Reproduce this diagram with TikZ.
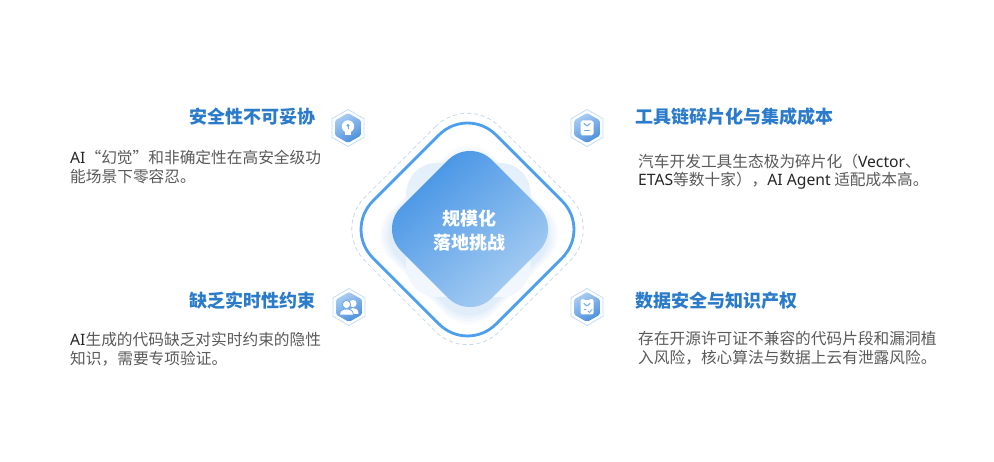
\documentclass[tikz,border=0pt]{standalone}
\usepackage{fontspec}
\setmainfont{Noto Sans}
\newfontfamily\cjk{Noto Sans CJK SC}
\usetikzlibrary{shapes.geometric}
\definecolor{titleblue}{HTML}{2B7BCB}
\definecolor{ringblue}{HTML}{4C9FEC}
\definecolor{dashblue}{HTML}{C4D9EA}
\definecolor{bodygray}{HTML}{5A5A5A}
\definecolor{latindark}{HTML}{262626}
\definecolor{blobblue}{HTML}{E3EFFB}
\definecolor{shadeA}{HTML}{3D8FE4}
\definecolor{shadeB}{HTML}{B1D3F4}
\definecolor{hexA}{HTML}{A9CDF3}
\definecolor{hexB}{HTML}{4A8FDB}
\definecolor{iconblue}{HTML}{6FA8E6}
\tikzset{
  x=1pt,y=-1pt,
  ttl/.style={font=\cjk\bfseries\fontsize{18}{20}\selectfont,text=titleblue,inner sep=0pt},
  bodytxt/.style={font=\cjk\fontsize{15.7}{18.8}\selectfont,text=bodygray,inner sep=0pt,anchor=north west,align=left},
  hexout/.style={regular polygon,regular polygon sides=6,minimum size=37pt,inner sep=0pt,draw=hexA!70,line width=0.8pt,fill=white},
  hexin/.style={regular polygon,regular polygon sides=6,minimum size=30pt,inner sep=0pt,rounded corners=1.5pt,top color=hexA,bottom color=hexB,shading angle=30},
  diamond box/.style={rectangle,rotate=45,inner sep=0pt},
  iconw/.style={fill=white,draw=none},
  iconb/.style={draw=iconblue,line width=1pt,line cap=round,line join=round},
}
\newcommand{\lat}[1]{{\color{latindark}\fontspec{Noto Sans}#1}}
\begin{document}
\begin{tikzpicture}
\useasboundingbox (0,0) rectangle (994,462);
\fill[white] (0,0) rectangle (994,462);
% glow
\foreach \s/\o in {146/0.05,142/0.06,138/0.07,134/0.08}{
  \node[diamond box,minimum size=\s pt,rounded corners=34pt,fill=shadeA!60,opacity=\o] at (469,235) {};
}
% blob
\node[rectangle,minimum width=124pt,minimum height=134pt,rounded corners=30pt,top color=blobblue,bottom color=blobblue!45,inner sep=0pt] (blob) at (468.5,230) {};
% rings
\node[diamond box,minimum size=190pt,rounded corners=45pt,draw=dashblue,line width=0.8pt,dash pattern=on 4pt off 3pt] (dash) at (467.5,229) {};
\node[diamond box,minimum size=174pt,rounded corners=40pt,draw=ringblue,line width=2.8pt] (ring) at (467.5,229.5) {};
% core
\node[diamond box,minimum size=128.5pt,rounded corners=31pt,top color=shadeA,bottom color=shadeB,shading angle=40] (core) at (470,229) {};
\node[font=\cjk\bfseries\fontsize{18}{24}\selectfont,text=white,align=center,inner sep=0pt] (ctext) at (469.5,230.5) {规模化\\落地挑战};
% titles
\node[ttl,anchor=east] (t1) at (316,117) {安全性不可妥协};
\node[ttl,anchor=west] (t2) at (635,117) {工具链碎片化与集成成本};
\node[ttl,anchor=east] (t3) at (316,300.5) {缺乏实时性约束};
\node[ttl,anchor=west] (t4) at (635,301) {数据安全与知识产权};
% bodies
\node[bodytxt] (b1) at (70,150) {\lat{AI}“幻觉”和非确定性在高安全级功\\能场景下零容忍。};
\node[bodytxt] (b2) at (638,153.5) {汽车开发工具生态极为碎片化（\lat{Vector}、\\\lat{ETAS}等数十家），\lat{AI Agent} 适配成本高。};
\node[bodytxt] (b3) at (70,332.5) {\lat{AI}生成的代码缺乏对实时约束的隐性\\知识，需要专项验证。};
\node[bodytxt] (b4) at (638,331.5) {存在开源许可证不兼容的代码片段和漏洞植\\入风险，核心算法与数据上云有泄露风险。};
% hexes
\foreach \n/\x/\y in {h1/348/128,h2/587/128,h3/349/307,h4/587/307}{
  \node[hexout,shape border rotate=90] (\n) at (\x,\y) {};
  \node[hexin,shape border rotate=90] (\n i) at (\x,\y) {};
}
% icon 1: bulb head
\begin{scope}[shift={(h1.center)}]
  \fill[iconw] (0,-1.5) circle (6.2);
  \fill[iconw] (-3,2) rectangle (3,7) ;
  \fill[iconblue] (0,-2.5) circle (1.6);
  \draw[iconb,line width=0.9pt] (0,-2) -- (0,1);
\end{scope}
% icon 2: card
\begin{scope}[shift={(h2.center)}]
  \fill[iconw,rounded corners=1.8pt] (-6.5,-7.5) rectangle (6.5,7.5);
  \draw[iconb] (-3,-4.5) -- (0,-2) -- (3,-4.5);
  \draw[iconb] (-2.5,3) -- (2.5,3);
\end{scope}
% icon 3: two people
\begin{scope}[shift={(h3.center)}]
  \fill[iconw] (4,-3.5) circle (3.6);
  \fill[iconw] (0,7) .. controls (1,1.5) and (2,1) .. (4,1) .. controls (7,1) and (9.5,2.5) .. (9.5,7) -- cycle;
  \fill[iconw,draw=iconblue,line width=0.8pt] (-2.5,-2.5) circle (4.1);
  \fill[iconw,draw=iconblue,line width=0.8pt] (-9.5,8) .. controls (-9.5,3.5) and (-6,2) .. (-2.5,2) .. controls (1,2) and (4.5,3.5) .. (4.5,8) -- cycle;
\end{scope}
% icon 4: tag with check
\begin{scope}[shift={(h4.center)}]
  \fill[iconw,rounded corners=1.5pt] (-6.5,-8) -- (-3,-8) -- (0,-6) -- (3,-8) -- (6.5,-8) -- (6.5,7.5) -- (-6.5,7.5) -- cycle;
  \draw[iconb] (-3,-3.5) -- (0,-1) -- (3,-3.5);
  \draw[iconb] (-3,3) -- (-1,3);
  \draw[iconb,line width=0.8pt] (1,4) -- (2.5,5.5) -- (5,2.5);
\end{scope}
\end{tikzpicture}
\end{document}
